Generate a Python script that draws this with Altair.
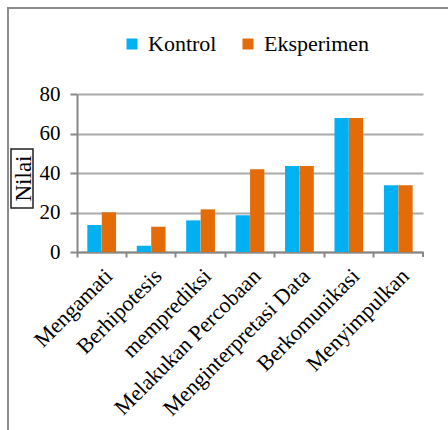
import altair as alt
import pandas as pd

categories = ["Mengamati", "Berhipotesis", "memprediksi", "Melakukan Percobaan",
              "Menginterpretasi Data", "Berkomunikasi", "Menyimpulkan"]
kontrol = [13.7, 3.2, 16.0, 18.6, 43.5, 67.8, 33.8]
eksperimen = [20.1, 12.8, 21.6, 41.9, 43.5, 67.8, 33.8]
series = ["Kontrol", "Eksperimen"]
colors = ["#00B0F0", "#E36C09"]

rows = []
for c, k, e in zip(categories, kontrol, eksperimen):
    rows.append({"Kategori": c, "Seri": "Kontrol", "Nilai": k})
    rows.append({"Kategori": c, "Seri": "Eksperimen", "Nilai": e})
df = pd.DataFrame(rows)

W, H = 346, 158
FONT = "Liberation Serif, Times New Roman, serif"

bars = alt.Chart(df).mark_bar(size=14.3).encode(
    x=alt.X("Kategori:N", sort=categories,
            scale=alt.Scale(paddingInner=0, paddingOuter=0),
            axis=alt.Axis(title=None, labelAngle=-45, labelAlign="right",
                          labelBaseline="top", labelFontSize=22, labelFont=FONT,
                          labelColor="black", bandPosition=0, tickSize=5,
                          tickColor="#888888", tickWidth=2, domainColor="#888888",
                          domainWidth=2, labelPadding=8, grid=False, labelLimit=400)),
    xOffset=alt.XOffset("Seri:N", sort=series,
                        scale=alt.Scale(paddingInner=0, paddingOuter=0.71)),
    y=alt.Y("Nilai:Q", scale=alt.Scale(domain=[0, 80]),
            axis=alt.Axis(values=[0, 20, 40, 60, 80], title="Nilai",
                          titleFont=FONT, titleFontSize=23, titleFontWeight="normal",
                          titleColor="black", titleAngle=-90, titleX=-54, titleY=84,
                          titleAlign="center", titleBaseline="middle",
                          labelFont=FONT, labelFontSize=21, labelColor="black",
                          labelPadding=10, tickSize=7, tickColor="#888888",
                          tickWidth=2, domainColor="#888888", domainWidth=2,
                          gridColor="#AAAAAA", gridWidth=2)),
    color=alt.Color("Seri:N", sort=series,
                    scale=alt.Scale(domain=series, range=colors),
                    legend=alt.Legend(title=None, orient="none", direction="horizontal",
                                      legendX=44, legendY=-61,
                                      symbolType="square", symbolSize=121,
                                      symbolStrokeWidth=0, labelFont=FONT,
                                      labelFontSize=22, labelColor="black",
                                      labelOffset=5, columnPadding=20, labelLimit=300)),
)

title_box = alt.Chart(pd.DataFrame({"a": [0]})).mark_rect(
    fill=None, stroke="#222222", strokeWidth=1.5).encode(
    x=alt.value(-66), x2=alt.value(-44), y=alt.value(55), y2=alt.value(114))

frame = alt.Chart(pd.DataFrame({"a": [0]})).mark_rect(
    fill=None, stroke="#8C8C8C", strokeWidth=2).encode(
    x=alt.value(-69), x2=alt.value(400), y=alt.value(-86), y2=alt.value(360))

end_tick = alt.Chart(pd.DataFrame({"a": [0]})).mark_rule(
    color="#888888", strokeWidth=2).encode(
    x=alt.value(W), y=alt.value(H), y2=alt.value(H + 5))

chart = alt.layer(frame, bars, title_box, end_tick).properties(
    width=W, height=H,
    autosize=alt.AutoSizeParams(type="none"),
    padding={"left": 77, "top": 94, "right": 25, "bottom": 178},
    background="white",
).configure(font=FONT).configure_view(stroke=None)

chart.save("out.html", embed_options={"renderer": "svg", "actions": False})
